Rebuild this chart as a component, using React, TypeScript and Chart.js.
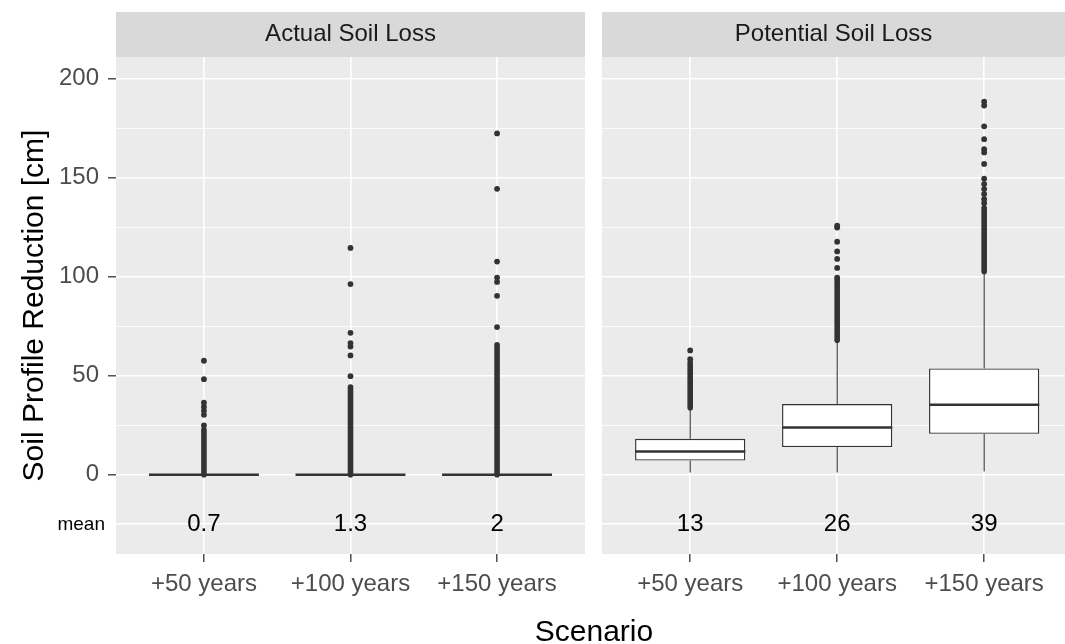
import { useEffect, useRef } from "react";
import { Chart, registerables } from "chart.js";

Chart.register(...registerables);

const FONT = "'Liberation Sans', Arial, Helvetica, sans-serif";

// ---------- data ----------
const categories = ["+50 years", "+100 years", "+150 years"];
const panelTitles = ["Actual Soil Loss", "Potential Soil Loss"];
const yTitle = "Soil Profile Reduction [cm]";
const xTitle = "Scenario";
const meanRowLabel = "mean";
const meanRowY = -25;
const majorTicks = [0, 50, 100, 150, 200];
const minorTicks = [25, 75, 125, 175];

// Actual soil loss
const actualQ1 = [0, 0, 0];
const actualMedian = [0, 0, 0];
const actualQ3 = [0, 0, 0];
const actualWhiskerLow = [0, 0, 0];
const actualWhiskerHigh = [0, 0, 0];
const actualDenseOutliers = [
  [0, 22.7],
  [0, 44.3],
  [0, 65.7],
];
const actualOutliers = [
  [24.9, 30.3, 32.3, 34.3, 36.4, 48.3, 57.6],
  [49.8, 60.3, 64.8, 66.5, 71.7, 96.3, 114.6],
  [74.6, 90.4, 97.4, 99.6, 107.7, 144.4, 172.4],
];
const actualMeans = ["0.7", "1.3", "2"];

// Potential soil loss
const potentialQ1 = [7.2, 14, 20.7];
const potentialMedian = [11.8, 23.9, 35.4];
const potentialQ3 = [18.2, 35.7, 53.7];
const potentialWhiskerLow = [1.2, 1.2, 1.7];
const potentialWhiskerHigh = [33.8, 68, 102.7];
const potentialDenseOutliers = [
  [33.8, 55],
  [68, 98.5],
  [102.7, 134.7],
];
const potentialOutliers = [
  [56.5, 58.4, 62.8],
  [99.6, 104.5, 109, 112.8, 117.7, 124.9, 125.8],
  [137.2, 139.2, 141.8, 144.3, 146.8, 149.5, 157, 162.8, 164.4, 169.5, 176, 186.5, 188.5],
];
const potentialMeans = ["13", "26", "39"];

// ---------- styling ----------
const DARK = "#333333";
const BOX_WIDTH = 0.75;

type PanelSpec = {
  title: string;
  q1: number[];
  median: number[];
  q3: number[];
  whiskerLow: number[];
  whiskerHigh: number[];
  dense: number[][];
  outliers: number[][];
  means: string[];
};

const actualSpec: PanelSpec = {
  title: panelTitles[0],
  q1: actualQ1,
  median: actualMedian,
  q3: actualQ3,
  whiskerLow: actualWhiskerLow,
  whiskerHigh: actualWhiskerHigh,
  dense: actualDenseOutliers,
  outliers: actualOutliers,
  means: actualMeans,
};

const potentialSpec: PanelSpec = {
  title: panelTitles[1],
  q1: potentialQ1,
  median: potentialMedian,
  q3: potentialQ3,
  whiskerLow: potentialWhiskerLow,
  whiskerHigh: potentialWhiskerHigh,
  dense: potentialDenseOutliers,
  outliers: potentialOutliers,
  means: potentialMeans,
};

function makePanelPlugin(spec: PanelSpec, showMeanLabel: boolean) {
  const stripTop = 12;
  return {
    id: "facetPanel",
    beforeDraw(chart: any) {
      const { ctx, chartArea: a } = chart;
      ctx.save();
      ctx.fillStyle = "#EBEBEB";
      ctx.fillRect(a.left, a.top, a.right - a.left, a.bottom - a.top);
      ctx.fillStyle = "#D9D9D9";
      ctx.fillRect(a.left, stripTop, a.right - a.left, a.top - stripTop);
      ctx.fillStyle = "#1A1A1A";
      ctx.font = `24px ${FONT}`;
      ctx.textAlign = "center";
      ctx.textBaseline = "middle";
      ctx.fillText(spec.title, (a.left + a.right) / 2, (stripTop + a.top) / 2);
      ctx.restore();
    },
    afterDatasetsDraw(chart: any) {
      const { ctx, chartArea: a } = chart;
      const xs = chart.scales.x;
      const ys = chart.scales.y;
      const yPix = ys.getPixelForValue(meanRowY);
      ctx.save();
      ctx.fillStyle = "#000000";
      ctx.font = `24px ${FONT}`;
      ctx.textAlign = "center";
      ctx.textBaseline = "middle";
      spec.means.forEach((m, i) => ctx.fillText(m, xs.getPixelForValue(i), yPix));
      if (showMeanLabel) {
        ctx.font = `19px ${FONT}`;
        ctx.textAlign = "right";
        ctx.fillText(meanRowLabel, a.left - 11, yPix);
      }
      ctx.restore();
    },
  };
}

function seg(x1: number, y1: number, x2: number, y2: number, width: number, order: number, cap = "butt") {
  return {
    type: "line" as const,
    data: [
      { x: x1, y: y1 },
      { x: x2, y: y2 },
    ],
    borderColor: DARK,
    borderWidth: width,
    borderCapStyle: cap,
    pointRadius: 0,
    fill: false,
    tension: 0,
    order,
  };
}

function makeConfig(spec: PanelSpec, isLeft: boolean, xMax: number): any {
  const half = BOX_WIDTH / 2;
  const datasets: any[] = [];
  categories.forEach((_, i) => {
    datasets.push(seg(i, spec.whiskerLow[i], i, spec.q1[i], 1.1, 4));
    datasets.push(seg(i, spec.q3[i], i, spec.whiskerHigh[i], 1.1, 4));
  });
  datasets.push({
    type: "bar",
    data: categories.map((_, i) => ({ x: i, y: [spec.q1[i], spec.q3[i]] })),
    backgroundColor: "#FFFFFF",
    borderColor: DARK,
    borderWidth: 1.4,
    borderSkipped: false,
    barPercentage: BOX_WIDTH,
    categoryPercentage: 1,
    order: 3,
  });
  categories.forEach((_, i) => {
    datasets.push(seg(i - half, spec.median[i], i + half, spec.median[i], 2.6, 2));
  });
  categories.forEach((_, i) => {
    datasets.push(seg(i, spec.dense[i][0], i, spec.dense[i][1], 5.6, 1, "round"));
  });
  datasets.push({
    type: "scatter",
    data: spec.outliers.flatMap((vals, i) => vals.map((v) => ({ x: i, y: v }))),
    pointRadius: 2.9,
    pointBackgroundColor: DARK,
    pointBorderWidth: 0,
    order: 0,
  });

  return {
    type: "bar",
    data: { datasets },
    plugins: [makePanelPlugin(spec, isLeft)],
    options: {
      responsive: false,
      animation: false,
      events: [],
      devicePixelRatio: 1,
      layout: {
        autoPadding: false,
        padding: { top: 57, left: isLeft ? 0 : 7, right: isLeft ? 10 : 0, bottom: 0 },
      },
      plugins: { legend: { display: false }, tooltip: { enabled: false }, title: { display: false } },
      scales: {
        x: {
          type: "linear",
          min: -0.6,
          max: xMax,
          offset: false,
          afterBuildTicks: (scale: any) => {
            scale.ticks = categories.map((_, i) => ({ value: i }));
          },
          afterFit: (scale: any) => {
            scale.height = 90;
            scale.paddingLeft = 0;
            scale.paddingRight = 0;
          },
          border: { display: false },
          grid: {
            offset: false,
            color: "#FFFFFF",
            lineWidth: 1.6,
            tickColor: DARK,
            tickWidth: 1.3,
            tickLength: 8,
          },
          ticks: {
            autoSkip: false,
            maxRotation: 0,
            minRotation: 0,
            padding: 8,
            color: "#4D4D4D",
            font: { size: 24, family: FONT },
            callback: (v: number) => categories[Math.round(v)] ?? "",
          },
        },
        y: {
          type: "linear",
          min: -40,
          max: 211,
          afterBuildTicks: (scale: any) => {
            scale.ticks = [meanRowY, ...majorTicks, ...minorTicks]
              .sort((a, b) => a - b)
              .map((v) => ({ value: v }));
          },
          afterFit: (scale: any) => {
            scale.width = isLeft ? 116 : 0;
            scale.paddingTop = 0;
            scale.paddingBottom = 0;
          },
          border: { display: false },
          title: {
            display: isLeft,
            text: yTitle,
            color: "#000000",
            font: { size: 30, family: FONT },
            padding: { top: 17, bottom: 0 },
          },
          grid: {
            color: "#FFFFFF",
            lineWidth: (ctx: any) => (minorTicks.includes(ctx.tick?.value) ? 0.8 : 1.6),
            drawTicks: isLeft,
            tickColor: (ctx: any) => (majorTicks.includes(ctx.tick?.value) ? DARK : "rgba(0,0,0,0)"),
            tickWidth: 1.3,
            tickLength: 8,
          },
          ticks: {
            display: isLeft,
            autoSkip: false,
            padding: 9,
            color: "#4D4D4D",
            font: { size: 24, family: FONT },
            callback: (v: number) => (majorTicks.includes(v) ? String(v) : ""),
          },
        },
      },
    },
  };
}

function Panel({ spec, isLeft, left, width, xMax }: { spec: PanelSpec; isLeft: boolean; left: number; width: number; xMax: number }) {
  const ref = useRef<HTMLCanvasElement>(null);
  useEffect(() => {
    const chart = new Chart(ref.current as HTMLCanvasElement, makeConfig(spec, isLeft, xMax));
    return () => chart.destroy();
  }, []);
  return (
    <canvas
      ref={ref}
      width={width}
      height={644}
      style={{ position: "absolute", left, top: 0, width, height: 644, display: "block" }}
    />
  );
}

export default function App() {
  useEffect(() => {
    document.body.style.margin = "0";
  }, []);
  return (
    <div style={{ position: "relative", width: 1065, height: 644, overflow: "hidden", background: "#FFFFFF" }}>
      <Panel spec={actualSpec} isLeft={true} left={0} width={595} xMax={2.6} />
      <Panel spec={potentialSpec} isLeft={false} left={595} width={470} xMax={2.55} />
      <div
        style={{
          position: "absolute",
          left: 116,
          width: 956,
          top: 616,
          textAlign: "center",
          fontFamily: FONT,
          fontSize: 30,
          lineHeight: "30px",
          color: "#000000",
        }}
      >
        {xTitle}
      </div>
    </div>
  );
}
